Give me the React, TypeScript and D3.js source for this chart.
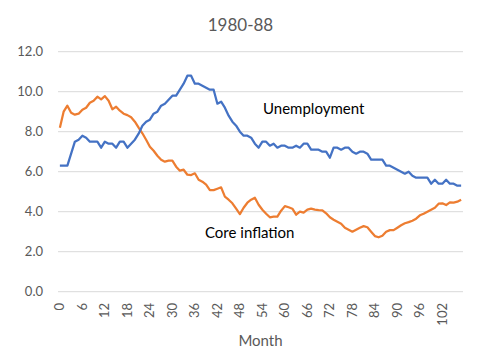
import { useEffect, useRef } from "react";
import * as d3 from "d3";

const width = 500;
const height = 362;

const months = Array.from({ length: 108 }, (_, i) => i);

// unemployment rate, monthly, 1980-88
const unemployment = [
  6.3, 6.3, 6.3, 6.9, 7.5, 7.6, 7.8, 7.7, 7.5, 7.5, 7.5, 7.2,
  7.5, 7.4, 7.4, 7.2, 7.5, 7.5, 7.2, 7.4, 7.6, 7.9, 8.3, 8.5,
  8.6, 8.9, 9.0, 9.3, 9.4, 9.6, 9.8, 9.8, 10.1, 10.4, 10.8, 10.8,
  10.4, 10.4, 10.3, 10.2, 10.1, 10.1, 9.4, 9.5, 9.2, 8.8, 8.5, 8.3,
  8.0, 7.8, 7.8, 7.7, 7.4, 7.2, 7.5, 7.5, 7.3, 7.4, 7.2, 7.3,
  7.3, 7.2, 7.2, 7.3, 7.2, 7.4, 7.4, 7.1, 7.1, 7.1, 7.0, 7.0,
  6.7, 7.2, 7.2, 7.1, 7.2, 7.2, 7.0, 6.9, 7.0, 7.0, 6.9, 6.6,
  6.6, 6.6, 6.6, 6.3, 6.3, 6.2, 6.1, 6.0, 5.9, 6.0, 5.8, 5.7,
  5.7, 5.7, 5.7, 5.4, 5.6, 5.4, 5.4, 5.6, 5.4, 5.4, 5.3, 5.3,
];

// core inflation
const coreInflation = [
  8.2, 9.0, 9.3, 8.95, 8.85, 8.9, 9.1, 9.2, 9.45, 9.55, 9.75, 9.62,
  9.78, 9.55, 9.12, 9.25, 9.05, 8.9, 8.83, 8.72, 8.5, 8.2, 7.92, 7.6,
  7.25, 7.05, 6.8, 6.6, 6.5, 6.55, 6.55, 6.25, 6.05, 6.1, 5.85, 5.83,
  5.92, 5.6, 5.5, 5.35, 5.08, 5.08, 5.15, 5.22, 4.75, 4.6, 4.42, 4.15,
  3.88, 4.2, 4.45, 4.6, 4.7, 4.35, 4.1, 3.9, 3.72, 3.75, 3.75, 4.05,
  4.28, 4.22, 4.15, 3.85, 4.0, 3.95, 4.1, 4.15, 4.1, 4.08, 4.07, 3.92,
  3.72, 3.6, 3.5, 3.4, 3.2, 3.1, 3.0, 3.1, 3.2, 3.28, 3.22, 3.0,
  2.78, 2.72, 2.8, 3.0, 3.08, 3.08, 3.2, 3.32, 3.42, 3.48, 3.55, 3.65,
  3.82, 3.9, 4.0, 4.1, 4.2, 4.4, 4.42, 4.33, 4.47, 4.45, 4.5, 4.6,
];

const yTicks = [0, 2, 4, 6, 8, 10, 12];
const xTicks = months.filter((m) => m % 6 === 0 && m <= 102);

const font = "Lato, 'Open Sans', sans-serif";

export default function App() {
  const ref = useRef<SVGSVGElement | null>(null);

  useEffect(() => {
    if (!ref.current) return;
    const svg = d3.select(ref.current);
    svg.selectAll("*").remove();

    const x = d3.scaleBand<number>().domain(months).range([58, 463]);
    const y = d3.scaleLinear().domain([0, 12]).range([291.7, 51.7]);
    const cx = (d: number) => (x(d) ?? 0) + x.bandwidth() / 2;

    // gridlines
    svg
      .append("g")
      .selectAll("line")
      .data(yTicks)
      .enter()
      .append("line")
      .attr("x1", 58)
      .attr("x2", 463)
      .attr("y1", (d) => y(d))
      .attr("y2", (d) => y(d))
      .attr("stroke", "#d9d9d9")
      .attr("stroke-width", 1);

    // y labels
    svg
      .append("g")
      .selectAll("text")
      .data(yTicks)
      .enter()
      .append("text")
      .attr("x", 43)
      .attr("y", (d) => y(d))
      .attr("dy", "0.35em")
      .attr("text-anchor", "end")
      .attr("font-family", font)
      .attr("font-size", 13)
      .attr("fill", "#595959")
      .text((d) => d3.format(".1f")(d));

    // x labels, rotated
    svg
      .append("g")
      .selectAll("text")
      .data(xTicks)
      .enter()
      .append("text")
      .attr("transform", (d) => `translate(${cx(d) + 4.5},303) rotate(-90)`)
      .attr("text-anchor", "end")
      .attr("font-family", font)
      .attr("font-size", 13)
      .attr("fill", "#595959")
      .text((d) => d);

    // lines
    const line = d3
      .line<number>()
      .x((_, i) => cx(months[i]))
      .y((d) => y(d));

    svg
      .append("path")
      .datum(coreInflation)
      .attr("d", line)
      .attr("fill", "none")
      .attr("stroke", "#ED7D31")
      .attr("stroke-width", 2.25)
      .attr("stroke-linejoin", "round");

    svg
      .append("path")
      .datum(unemployment)
      .attr("d", line)
      .attr("fill", "none")
      .attr("stroke", "#4472C4")
      .attr("stroke-width", 2.25)
      .attr("stroke-linejoin", "round");

    // title and labels
    svg
      .append("text")
      .attr("x", 240.5)
      .attr("y", 31)
      .attr("text-anchor", "middle")
      .attr("font-family", font)
      .attr("font-size", 17)
      .attr("fill", "#595959")
      .text("1980-88");

    svg
      .append("text")
      .attr("x", 260.5)
      .attr("y", 346)
      .attr("text-anchor", "middle")
      .attr("font-family", font)
      .attr("font-size", 15)
      .attr("fill", "#595959")
      .text("Month");

    svg
      .append("text")
      .attr("x", 263)
      .attr("y", 114)
      .attr("font-family", font)
      .attr("font-size", 15)
      .attr("fill", "#000")
      .text("Unemployment");

    svg
      .append("text")
      .attr("x", 205)
      .attr("y", 238)
      .attr("font-family", font)
      .attr("font-size", 15)
      .attr("fill", "#000")
      .text("Core inflation");
  }, []);

  return (
    <svg
      ref={ref}
      width={width}
      height={height}
      style={{ position: "absolute", left: 0, top: 0, background: "#fff" }}
    />
  );
}
